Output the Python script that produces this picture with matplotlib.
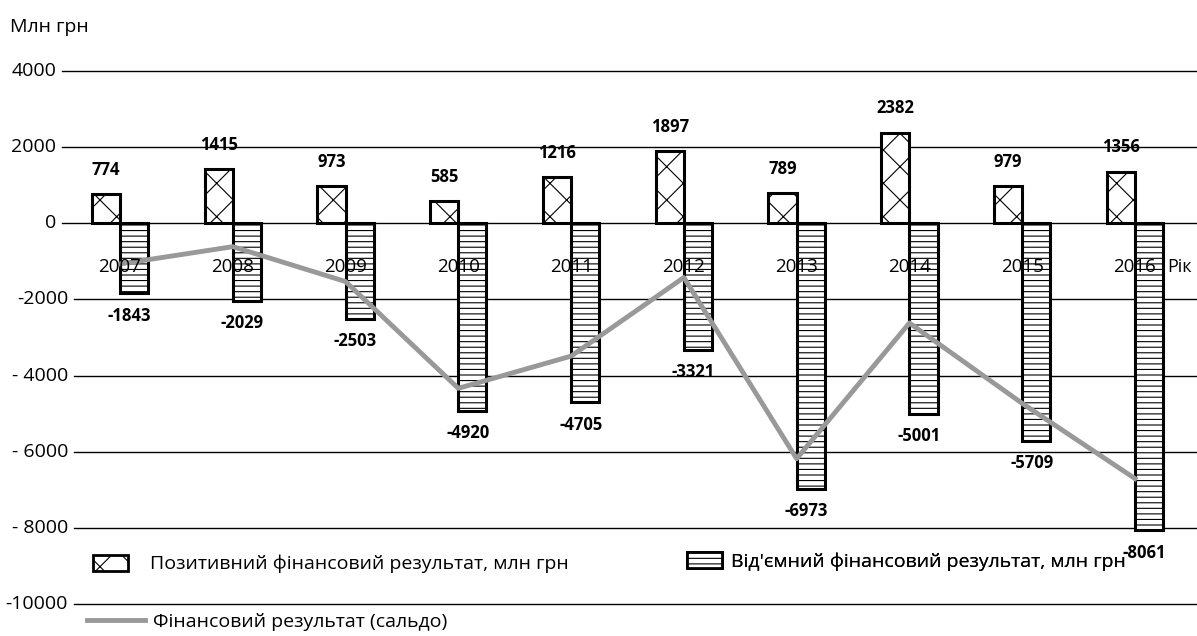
import numpy as np
import matplotlib.pyplot as plt
from matplotlib.patches import Patch
from matplotlib.lines import Line2D

plt.rcParams['font.family'] = ['Open Sans', 'DejaVu Sans']
plt.rcParams['hatch.linewidth'] = 0.8

years = ['2007', '2008', '2009', '2010', '2011', '2012', '2013', '2014', '2015', '2016']
positive = [774, 1415, 973, 585, 1216, 1897, 789, 2382, 979, 1356]
negative = [-1843, -2029, -2503, -4920, -4705, -3321, -6973, -5001, -5709, -8061]
saldo = [-1069, -614, -1530, -4335, -3489, -1424, -6184, -2619, -4730, -6705]
yticks = [4000, 2000, 0, -2000, -4000, -6000, -8000, -10000]
ytick_labels = ['4000', '2000', '0', '-2000', '- 4000', '- 6000', '- 8000', '-10000']

fig = plt.figure(figsize=(11.97, 6.36), dpi=100)
ax = fig.add_axes([62 / 1197, 32 / 636, 1135 / 1197, 533 / 636])

x = np.arange(len(years))
w = 0.25

# сітка і підписи осі Y
ytr = ax.get_yaxis_transform()
for t, lab in zip(yticks, ytick_labels):
    x0 = 0 if t >= 0 else 12 / 1135
    ax.axhline(t, xmin=x0, color='black', lw=1.0, zorder=1, clip_on=False)
    ax.text(x0 - 6 / 1135, t, lab, transform=ytr, ha='right', va='center',
            fontsize=14)

ax.bar(x - w / 2, positive, w, color='white', edgecolor='black', lw=2.2,
       hatch='x', zorder=2)
ax.bar(x + w / 2, negative, w, color='white', edgecolor='black', lw=2.2,
       hatch='---', zorder=2)
ax.plot(x, saldo, color='#999999', lw=3.5, zorder=4)

# підписи значень
for i in range(len(years)):
    ax.text(x[i] - w / 2, positive[i] + 400, str(positive[i]), ha='center',
            va='bottom', fontsize=12, fontweight='bold', zorder=5)
    ax.text(x[i] + w / 2 - 0.04, negative[i] - 350, str(negative[i]), ha='center',
            va='top', fontsize=12, fontweight='bold', zorder=5)
    ax.text(x[i], -1140, years[i], ha='center', va='center', fontsize=13.5, zorder=5)

ax.text(9.29, -1140, 'Рік', ha='left', va='center', fontsize=13)

ax.set_xlim(-0.514, 9.55)
ax.set_ylim(-10000, 4000)
ax.set_xticks([])
ax.set_yticks([])
for s in ax.spines.values():
    s.set_visible(False)

fig.text(10 / 1197, 1 - 27 / 636, 'Млн грн', fontsize=14, va='center', ha='left')

# легенда
h1 = Patch(facecolor='white', edgecolor='black', lw=2, hatch='x')
h2 = Patch(facecolor='white', edgecolor='black', lw=2, hatch='---')
h3 = Line2D([], [], color='#999999', lw=3.5)
leg1 = ax.legend([h1], ['Позитивний фінансовий результат, млн грн'], frameon=False,
                 loc='center left', bbox_to_anchor=(0.012, 0.075), fontsize=14,
                 handlelength=1.8, handleheight=0.9, handletextpad=1.1)
ax.add_artist(leg1)
leg2 = ax.legend([h2], ["Від'ємний фінансовий результат, млн грн"], frameon=False,
                 loc='center left', bbox_to_anchor=(0.535, 0.08), fontsize=14,
                 handlelength=1.8, handleheight=0.9, handletextpad=0.5)
ax.add_artist(leg2)
fig.legend([h3], ['Фінансовий результат (сальдо)'], frameon=False,
           loc='center left', bbox_to_anchor=(0.058, 1 - 622 / 636), fontsize=14,
           handlelength=3.0, handletextpad=0.4)

fig.savefig('out.png', dpi=100)
